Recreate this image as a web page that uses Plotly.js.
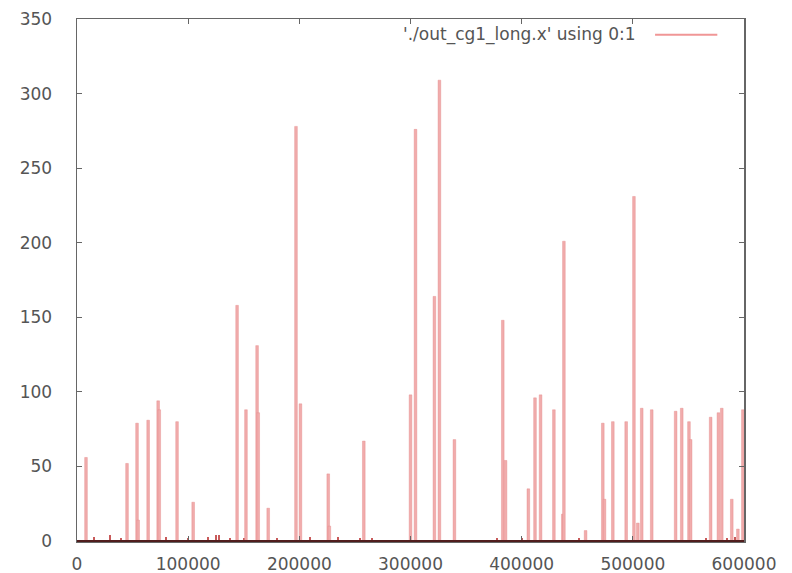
<!DOCTYPE html>
<html>
<head>
<meta charset="utf-8">
<script src="https://cdn.plot.ly/plotly-3.0.1.min.js"></script>
<style>html,body{margin:0;padding:0;background:#fff;}#chart{width:792px;height:573px;}</style>
</head>
<body>
<div id="chart"></div>
<script>
// Spike positions (sample index) and heights
const spikeX = [8100, 45000, 54000, 55000, 64000, 73000, 74000, 90000, 104500, 144000, 152000, 162000, 163000, 172000,
  197000, 201000, 226000, 227000, 258000, 300000, 304500, 321500, 326000, 339500, 383000, 385500, 406000, 412000,
  417000, 429000, 437000, 438000, 457500, 473000, 474500, 482000, 494000, 501000, 504500, 508000, 517000, 538500,
  544000, 550500, 552000, 570000, 577000, 580000, 589000, 594500, 599000];
const spikeY = [56, 52, 79, 14, 81, 94, 88, 80, 26, 158, 88, 131, 86, 22,
  278, 92, 45, 10, 67, 98, 276, 164, 309, 68, 148, 54, 35, 96,
  98, 88, 18, 201, 7, 79, 28, 80, 80, 231, 12, 89, 88, 87,
  89, 80, 68, 83, 86, 89, 28, 8, 88];
// Low-level background values near zero
const noiseX = [0, 15000, 20000, 30000, 35000, 40000, 60000, 80000, 85000, 95000, 100000, 110000, 118000, 125000,
  128000, 132000, 138000, 150000, 168000, 180000, 188000, 210000, 220000, 235000, 245000, 255000, 265000, 275000,
  285000, 295000, 310000, 315000, 335000, 350000, 360000, 370000, 378000, 392000, 400000, 422000, 445000, 452000,
  462000, 468000, 488000, 512000, 525000, 532000, 548000, 560000, 566000, 585000, 592000, 600000];
const noiseY = [1, 3, 1, 4, 1, 2, 1, 3, 1, 1, 2, 1, 3, 4,
  4, 1, 2, 2, 1, 2, 1, 3, 1, 3, 1, 2, 2, 1,
  1, 1, 1, 1, 1, 1, 1, 1, 2, 1, 2, 1, 1, 2,
  1, 1, 1, 1, 1, 1, 1, 1, 2, 2, 3, 5];
const xTicks = [0, 100000, 200000, 300000, 400000, 500000, 600000];
const yTicks = [0, 50, 100, 150, 200, 250, 300, 350];
const legendLabel = "'./out_cg1_long.x' using 0:1";

const font = {family: 'DejaVu Sans, sans-serif', size: 17, color: '#555'};

const traces = [
  {type: 'bar', x: noiseX, y: noiseY, width: 1800,
   marker: {color: 'rgb(200,90,90)', line: {width: 0}}, showlegend: false, hoverinfo: 'skip'},
  {type: 'bar', x: spikeX, y: spikeY, width: 2400,
   marker: {color: 'rgb(241,172,172)', line: {color: 'rgb(228,135,135)', width: 0.4}}, showlegend: false}
];

const layout = {
  width: 792, height: 573,
  margin: {l: 77, r: 48, t: 19, b: 32, pad: 0},
  paper_bgcolor: '#fff', plot_bgcolor: '#fff',
  font: font,
  bargap: 0, barmode: 'overlay',
  showlegend: false,
  xaxis: {range: [0, 600000], tickvals: xTicks, ticktext: xTicks.map(String),
    showgrid: false, zeroline: false, showline: true, mirror: 'ticks',
    linecolor: '#666', linewidth: 1.5, ticks: 'inside', ticklen: 5, tickcolor: '#666',
    tickfont: font, ticklabelstandoff: 7},
  yaxis: {range: [0, 350], tickvals: yTicks, ticktext: yTicks.map(String),
    showgrid: false, zeroline: false, showline: true, mirror: 'ticks',
    linecolor: '#666', linewidth: 1.5, ticks: 'inside', ticklen: 5, tickcolor: '#666',
    tickfont: font, ticklabelstandoff: 20},
  shapes: [
    {type: 'line', xref: 'paper', yref: 'paper', x0: 0, x1: 1, y0: 0, y1: 0,
     line: {color: 'rgb(80,30,30)', width: 2}},
    {type: 'line', xref: 'x', yref: 'paper', x0: 520000, x1: 576000, y0: 0.97, y1: 0.97,
     line: {color: 'rgb(240,150,150)', width: 2}}
  ],
  annotations: [
    {xref: 'x', yref: 'paper', x: 505000, y: 0.97, xanchor: 'right', yanchor: 'middle',
     text: legendLabel, showarrow: false, font: font}
  ]
};

Plotly.newPlot('chart', traces, layout, {staticPlot: true, displayModeBar: false});
</script>
</body>
</html>
